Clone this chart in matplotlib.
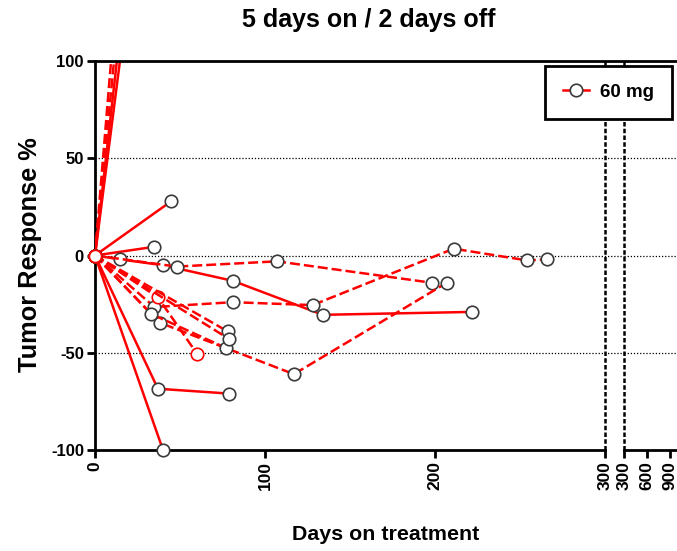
# spider_plot.py  -  tumour response over time, 60 mg cohort (5 on / 2 off)
# outputs: out.png

import numpy as np
import matplotlib
matplotlib.use("Agg")
import matplotlib.pyplot as plt
from matplotlib.lines import Line2D

plt.rcParams["font.family"] = ["Liberation Sans", "DejaVu Sans"]
plt.rcParams["font.weight"] = "bold"

# ── per-patient data (days on treatment, % change from baseline) ───────────────

days_p01 = [0, 35];   resp_p01 = [0, 4.5]
days_p02 = [0, 45];   resp_p02 = [0, 28]
days_p03 = [0, 14];   resp_p03 = [0, 148]
days_p04 = [0, 14];   resp_p04 = [0, 125]
days_p05 = [0, 21];   resp_p05 = [0, 163]
days_p06 = [0, 21];   resp_p06 = [0, 143]
days_p07 = [0, 15, 40, 81, 134, 222];      resp_p07 = [0, -2, -5, -13, -30.5, -29]
days_p08 = [0, 48, 107, 198];              resp_p08 = [0, -5.7, -3, -14]
days_p09 = [0, 35, 81, 128, 211, 254, 266]; resp_p09 = [0, -26.5, -24, -25.5, 3.5, -2.5, -2]
days_p10 = [0, 38, 117, 207];              resp_p10 = [0, -34.5, -61, -14]
days_p11 = [0, 37, 60];                    resp_p11 = [0, -21.5, -50.5]
days_p12 = [0, 33, 77];                    resp_p12 = [0, -30, -47.5]
days_p13 = [0, 78];                        resp_p13 = [0, -39]
days_p14 = [0, 79];                        resp_p14 = [0, -43]
days_p15 = [0, 37, 79];                    resp_p15 = [0, -68.5, -71]
days_p16 = [0, 40];                        resp_p16 = [0, -100]

patients = [
    (days_p01, resp_p01), (days_p02, resp_p02), (days_p03, resp_p03),
    (days_p04, resp_p04), (days_p05, resp_p05), (days_p06, resp_p06),
    (days_p07, resp_p07), (days_p08, resp_p08), (days_p09, resp_p09),
    (days_p10, resp_p10), (days_p11, resp_p11), (days_p12, resp_p12),
    (days_p13, resp_p13), (days_p14, resp_p14), (days_p15, resp_p15),
    (days_p16, resp_p16),
]

# solid = still on treatment, dashed = discontinued
line_styles = ["solid", "solid", "dashed", "dashed", "solid", "solid",
               "solid", "dashed", "dashed", "dashed", "dashed", "dashed",
               "dashed", "dashed", "solid", "solid"]
red_edge = [False] * 10 + [True] + [False] * 5

y_ticks   = [-100, -50, 0, 50, 100]
x_ticks   = [0, 100, 200, 300]
x_ticks_b = [300, 600, 900]
grid_y    = [-50, 0, 50]

RED  = "#ff0000"
EDGE = "#3a3a3a"
DASH = (0, (4, 1.6))
DOTS = (0, (1, 1.5))
BRK  = (0, (1.8, 0.9))

# ── figure: main segment 0-300 days + compressed segment 300+ ─────────────────

fig = plt.figure(figsize=(6.77, 5.51), dpi=100)
W, H = 677, 551

def px_box(x0, x1, y0, y1):
    return [x0 / W, 1 - y1 / H, (x1 - x0) / W, (y1 - y0) / H]

ax  = fig.add_axes(px_box(95, 605, 61, 450))
axb = fig.add_axes(px_box(624, 677, 61, 450))

for a in (ax, axb):
    a.set_ylim(-100, 100)
    a.set_facecolor("none")
ax.set_xlim(0, 300)
axb.set_xlim(300, 990)

for i, (d, r) in enumerate(patients):
    ls = "-" if line_styles[i] == "solid" else DASH
    clip = max(abs(v) for v in r) > 100
    ec = RED if red_edge[i] else EDGE
    ax.plot(d, r, color=RED, linestyle=ls, linewidth=1.8,
            marker="o", markersize=9, markerfacecolor="white",
            markeredgecolor=ec, markeredgewidth=1.2,
            clip_on=clip, zorder=3 + i * 0.01)

# baseline point shared by every patient
ax.plot(days_p01[0], resp_p01[0], marker="o", markersize=9,
        markerfacecolor="white", markeredgecolor=RED, markeredgewidth=1.4,
        clip_on=False, zorder=5)

# gridlines run across the gap between segments
ext = (624 - 95) / 510
for g in grid_y:
    ax.axhline(g, xmin=0, xmax=ext, color="black", linewidth=0.9,
               linestyle=DOTS, clip_on=False, zorder=1)
    axb.axhline(g, color="black", linewidth=0.9, linestyle=DOTS, zorder=1)

# continuous top frame line
ax.axhline(100, xmin=0, xmax=(677 - 95) / 510, color="black",
           linewidth=2, clip_on=False, zorder=6)

# dotted break lines at both ends of the gap
ax.axvline(300, color="black", linewidth=1.8, linestyle=BRK,
           dash_capstyle="butt", clip_on=False, zorder=2)
axb.axvline(300, color="black", linewidth=1.8, linestyle=BRK,
            dash_capstyle="butt", clip_on=False, zorder=2)

# ── spines / ticks ────────────────────────────────────────────────────────────

for a in (ax, axb):
    a.spines["top"].set_visible(False)
    a.spines["right"].set_visible(False)
    a.spines["bottom"].set_linewidth(2)
ax.spines["left"].set_linewidth(2)
axb.spines["left"].set_visible(False)

ax.set_yticks(y_ticks)
ax.set_yticklabels([str(t) for t in y_ticks], fontsize=12, fontweight="bold")
ax.set_xticks(x_ticks)
ax.set_xticklabels([str(t) for t in x_ticks], fontsize=12.5,
                   fontweight="bold", rotation=90)
ax.tick_params(axis="both", direction="out", length=6, width=2, pad=2)

axb.set_yticks([])
axb.set_xticks(x_ticks_b)
axb.set_xticklabels([str(t) for t in x_ticks_b], fontsize=12.5,
                    fontweight="bold", rotation=90)
axb.tick_params(axis="x", direction="out", length=6, width=2, pad=2)

# ── labels ────────────────────────────────────────────────────────────────────

fig.text(369 / W, 1 - 20 / H, "5 days on / 2 days off", ha="center",
         va="center", fontsize=18, fontweight="bold")
fig.text(386 / W, 1 - 535 / H, "Days on treatment", ha="center",
         va="center", fontsize=15.4, fontweight="bold")
fig.text(30 / W, 1 - 255 / H, "Tumor Response %", ha="center",
         va="center", rotation=90, fontsize=18.3, fontweight="bold")

handle = Line2D([], [], color=RED, linewidth=1.8, marker="o", markersize=9,
                markerfacecolor="white", markeredgecolor=EDGE,
                markeredgewidth=1.2)
leg = fig.legend([handle], ["60 mg"], loc="upper right",
                 bbox_to_anchor=(672 / W, 1 - 66 / H), borderaxespad=0,
                 fancybox=False, edgecolor="black", framealpha=1,
                 prop={"size": 13.5, "weight": "bold"}, handlelength=1.4,
                 borderpad=0.95, handletextpad=0.6)
leg.get_frame().set_linewidth(2)
leg.set_zorder(10)

fig.savefig("out.png", dpi=100)
plt.close(fig)
print("saved -> out.png")
